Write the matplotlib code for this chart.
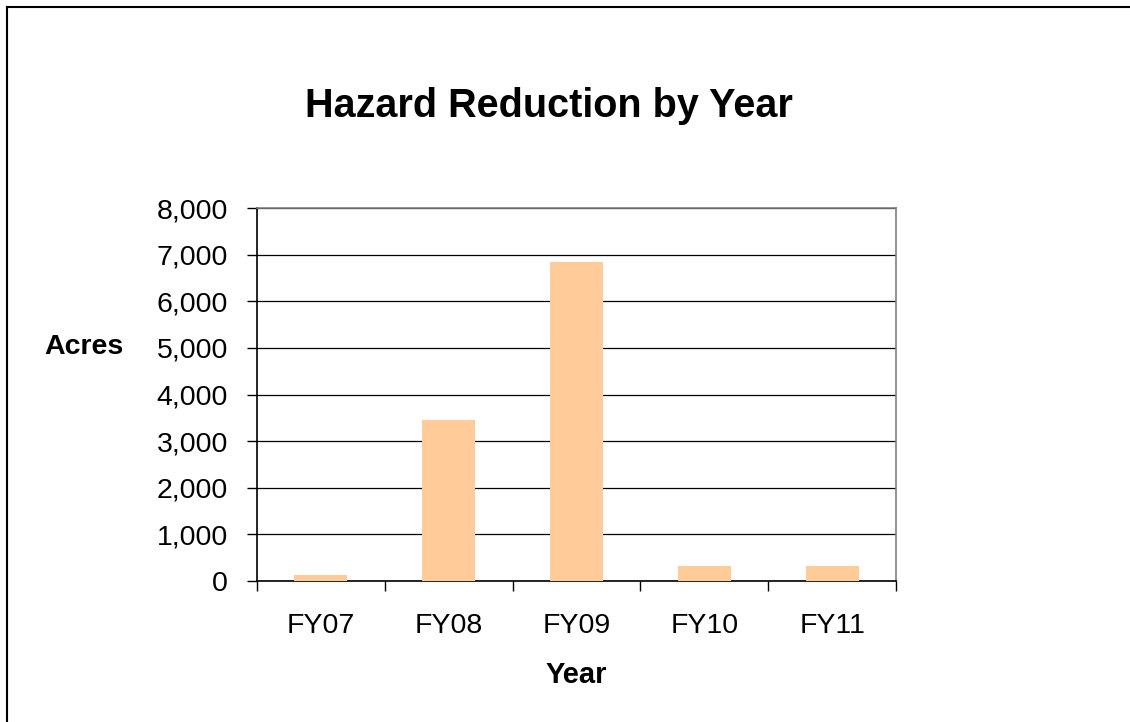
import numpy as np
import matplotlib
matplotlib.use("Agg")
import matplotlib.pyplot as plt
from matplotlib.lines import Line2D
from matplotlib.ticker import FuncFormatter, MultipleLocator, FixedLocator

plt.rcParams['font.family'] = ['Liberation Sans', 'DejaVu Sans']

years = ["FY07", "FY08", "FY09", "FY10", "FY11"]
acres = [130, 3450, 6850, 330, 330]

fig = plt.figure(figsize=(11.3, 7.22), dpi=100)
ax = fig.add_axes([257/1130, 1 - 581/722, 639/1130, 373/722])

x = np.arange(len(years))
ax.bar(x, acres, width=0.415, color="#FFCC99", zorder=3)

ax.set_xlim(-0.5, len(years) - 0.5)
ax.set_ylim(0, 8000)
ax.yaxis.set_major_locator(MultipleLocator(1000))
ax.yaxis.set_major_formatter(FuncFormatter(lambda v, p: f"{int(v):,}"))
ax.grid(axis="y", color="black", linewidth=0.9, zorder=0)

ax.set_xticks(x)
ax.set_xticklabels(years)
ax.xaxis.set_minor_locator(FixedLocator(np.arange(-0.5, len(years), 1.0)))
ax.tick_params(axis="x", which="major", length=0, pad=23, labelsize=20.5)
ax.tick_params(axis="x", which="minor", length=7, width=1, color="black", direction="out")
ax.tick_params(axis="y", length=7, width=1, pad=14, labelsize=20.5, direction="out")

for s in ["top", "right"]:
    ax.spines[s].set_color("#808080")
    ax.spines[s].set_linewidth(1.2)
for s in ["left", "bottom"]:
    ax.spines[s].set_color("black")
    ax.spines[s].set_linewidth(1.2)

ax.set_xlabel("Year", fontsize=21, fontweight="bold", labelpad=16)
ax.set_ylabel("Acres", fontsize=20.5, fontweight="bold", rotation=0,
              ha="center", va="center")
ax.yaxis.set_label_coords(-0.2707, 0.627)

fig.text(549/1130, 1 - 116.7/722, "Hazard Reduction by Year", fontsize=28.5,
         fontweight="bold", ha="center", va="baseline")

# outer frame (only left and top edges show)
fig.add_artist(Line2D([7/1130, 7/1130], [0, 1 - 7/722], color="black", lw=1.5,
                      transform=fig.transFigure))
fig.add_artist(Line2D([7/1130, 1], [1 - 7/722, 1 - 7/722], color="black", lw=1.5,
                      transform=fig.transFigure))

fig.savefig("out.png", dpi=100)
